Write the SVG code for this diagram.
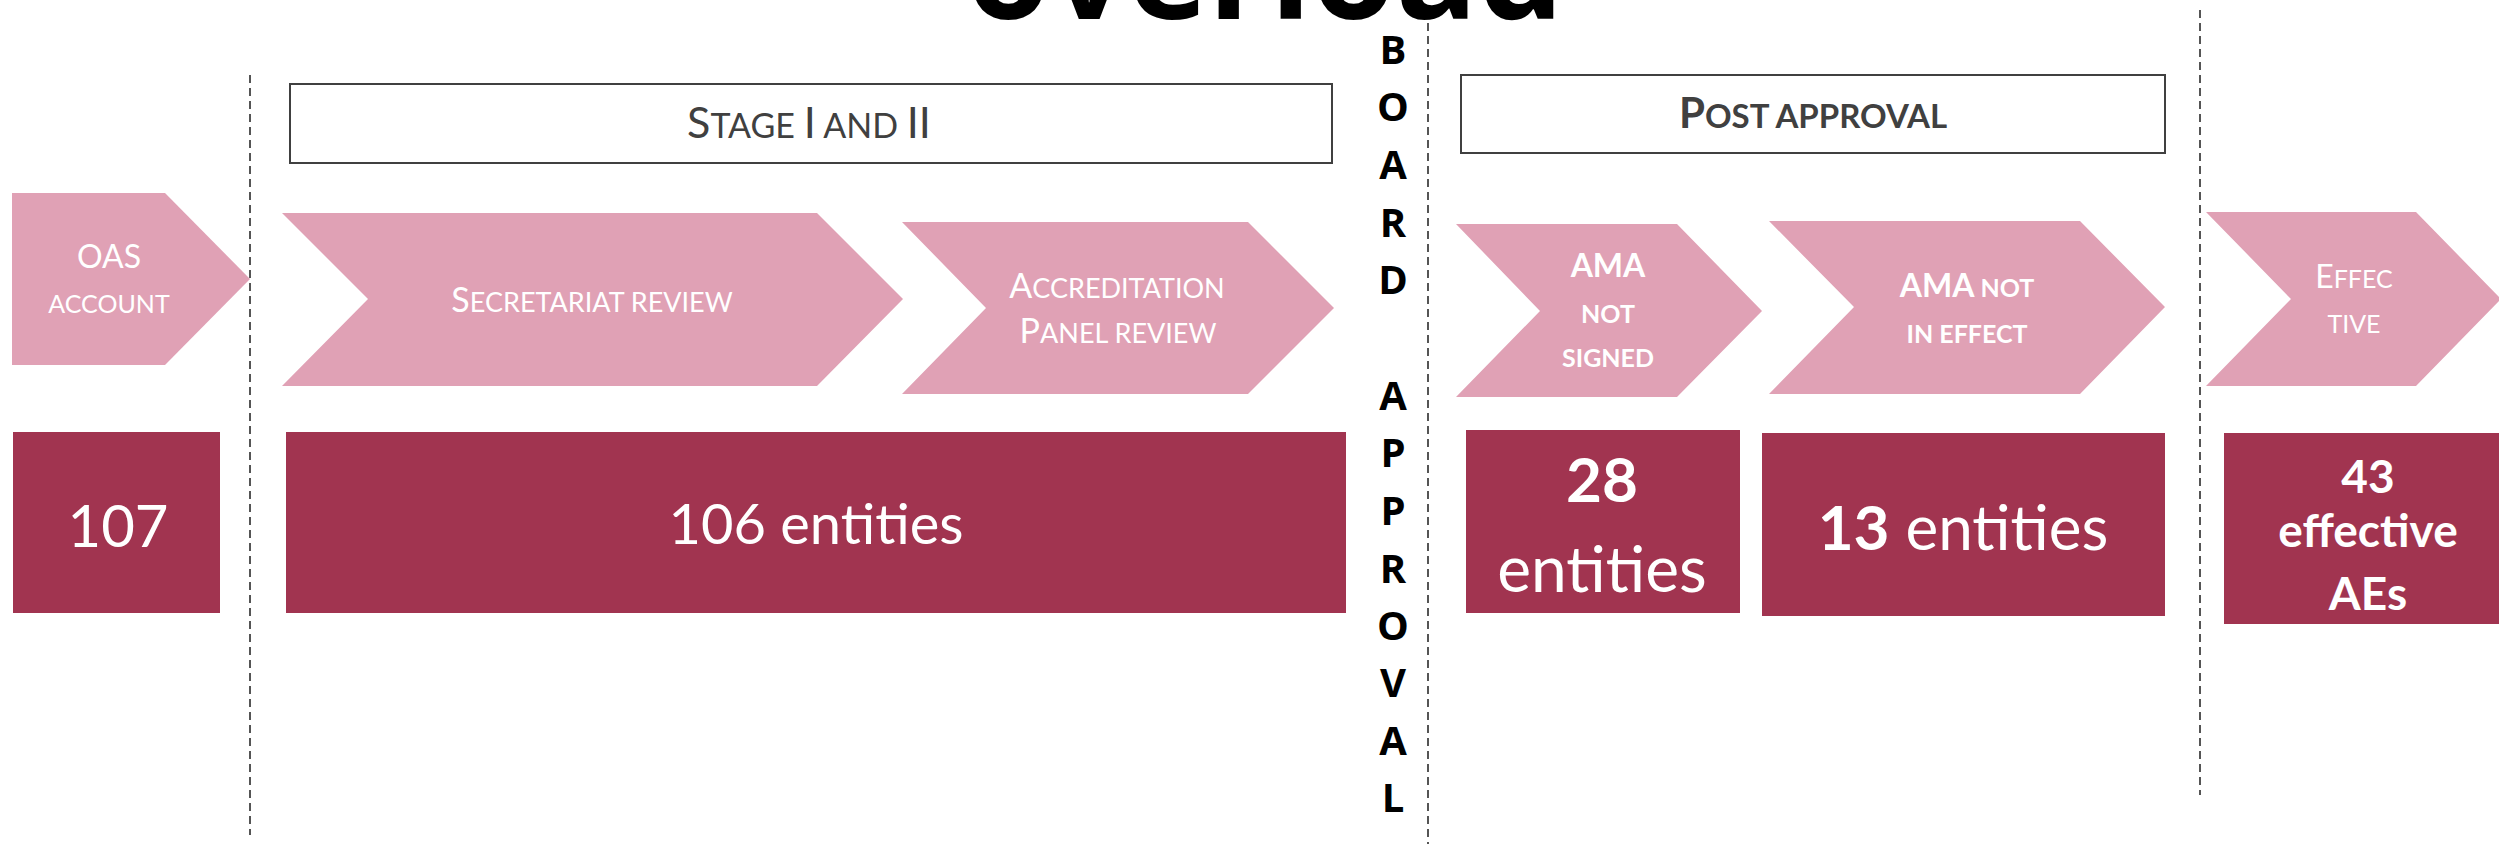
<svg xmlns="http://www.w3.org/2000/svg" width="2499" height="844" viewBox="0 0 2499 844">
<style>
.chev{fill:#E0A1B5}
.num{fill:#A13450}
.hdr{fill:#fff;stroke:#404040;stroke-width:2}
.sep{stroke:#555;stroke-width:2;stroke-dasharray:8 5;fill:none}
.t{font-family:Lato,"Open Sans","Liberation Sans",sans-serif;text-anchor:middle}
.w{fill:#fff}
.g{fill:#404040}
.b{font-weight:700}
.l{font-weight:400}
.title{font-family:"Open Sans","Liberation Sans",sans-serif;font-weight:700;font-size:136px;text-anchor:middle;fill:#000}
.v{font-family:"Open Sans","Liberation Sans",sans-serif;font-weight:700;font-size:40px;text-anchor:middle;fill:#000}
</style>
<rect width="2499" height="844" fill="#fff"/>
<text class="title" x="1265" y="19">overload</text>

<g id="separators">
<line class="sep" x1="250" y1="75" x2="250" y2="835"/>
<line class="sep" x1="1428" y1="23" x2="1428" y2="844"/>
<line class="sep" x1="2200" y1="10" x2="2200" y2="795"/>
</g>

<g id="board-approval">
<text class="v" x="1393" y="64">B</text>
<text class="v" x="1393" y="121">O</text>
<text class="v" x="1393" y="179">A</text>
<text class="v" x="1393" y="237">R</text>
<text class="v" x="1393" y="294">D</text>
<text class="v" x="1393" y="410">A</text>
<text class="v" x="1393" y="467">P</text>
<text class="v" x="1393" y="525">P</text>
<text class="v" x="1393" y="583">R</text>
<text class="v" x="1393" y="640">O</text>
<text class="v" x="1393" y="697">V</text>
<text class="v" x="1393" y="755">A</text>
<text class="v" x="1393" y="812">L</text>
</g>

<g id="stage-header">
<rect class="hdr" x="290" y="84" width="1042" height="79"/>
<text class="t g l" x="809" y="138" font-size="34"><tspan font-size="43">S</tspan>TAGE <tspan font-size="43">I</tspan> AND <tspan font-size="43">II</tspan></text>
</g>

<g id="post-header">
<rect class="hdr" x="1461" y="75" width="704" height="78"/>
<text class="t g b" x="1813" y="128" font-size="33"><tspan font-size="42">P</tspan>OST APPROVAL</text>
</g>

<g id="oas-account">
<polygon class="chev" points="12,193 165,193 250,279 165,365 12,365"/>
<text class="t w l" x="109" y="268" font-size="32">OAS</text>
<text class="t w l" x="109" y="313" font-size="25">ACCOUNT</text>
</g>

<g id="secretariat-review">
<polygon class="chev" points="282,213 817,213 903,299 817,386 282,386 368,299"/>
<text class="t w l" x="592" y="312" font-size="27"><tspan font-size="34">S</tspan>ECRETARIAT REVIEW</text>
</g>

<g id="accreditation-panel">
<polygon class="chev" points="902,222 1248,222 1334,308 1248,394 902,394 986,308"/>
<text class="t w l" x="1117" y="298" font-size="27"><tspan font-size="34">A</tspan>CCREDITATION</text>
<text class="t w l" x="1118" y="343" font-size="27"><tspan font-size="34">P</tspan>ANEL REVIEW</text>
</g>

<g id="ama-not-signed">
<polygon class="chev" points="1456,224 1677,224 1762,311 1677,397 1456,397 1540,311"/>
<text class="t w b" x="1608" y="277" font-size="32">AMA</text>
<text class="t w b" x="1608" y="323" font-size="25">NOT</text>
<text class="t w b" x="1608" y="367" font-size="25">SIGNED</text>
</g>

<g id="ama-not-in-effect">
<polygon class="chev" points="1769,221 2080,221 2165,307 2080,394 1769,394 1854,307"/>
<text class="t w b" x="1967" y="297" font-size="25"><tspan font-size="32">AMA</tspan>  NOT</text>
<text class="t w b" x="1967" y="343" font-size="25">IN EFFECT</text>
</g>

<g id="effective">
<polygon class="chev" points="2206,212 2416,212 2501,299 2416,386 2206,386 2291,299"/>
<text class="t w l" x="2354" y="288" font-size="25"><tspan font-size="32">E</tspan>FFEC</text>
<text class="t w l" x="2354" y="333" font-size="25">TIVE</text>
</g>

<g id="count-107">
<rect class="num" x="13" y="432" width="207" height="181"/>
<text class="t w l" x="118" y="547" font-size="58">107</text>
</g>

<g id="count-106">
<rect class="num" x="286" y="432" width="1060" height="181"/>
<text class="t w l" x="816" y="544" font-size="56">106 entities</text>
</g>

<g id="count-28">
<rect class="num" x="1466" y="430" width="274" height="183"/>
<text class="t w b" x="1602" y="502" font-size="62">28</text>
<text class="t w" x="1602" y="592" font-size="64">entities</text>
</g>

<g id="count-13">
<rect class="num" x="1762" y="433" width="403" height="183"/>
<text class="t w" x="1963" y="550" font-size="62"><tspan font-weight="700">13</tspan> entities</text>
</g>

<g id="count-43">
<rect class="num" x="2224" y="433" width="280" height="191"/>
<text class="t w b" x="2368" y="493" font-size="46">43</text>
<text class="t w b" x="2368" y="547" font-size="46">effective</text>
<text class="t w b" x="2368" y="610" font-size="46">AEs</text>
</g>
</svg>
